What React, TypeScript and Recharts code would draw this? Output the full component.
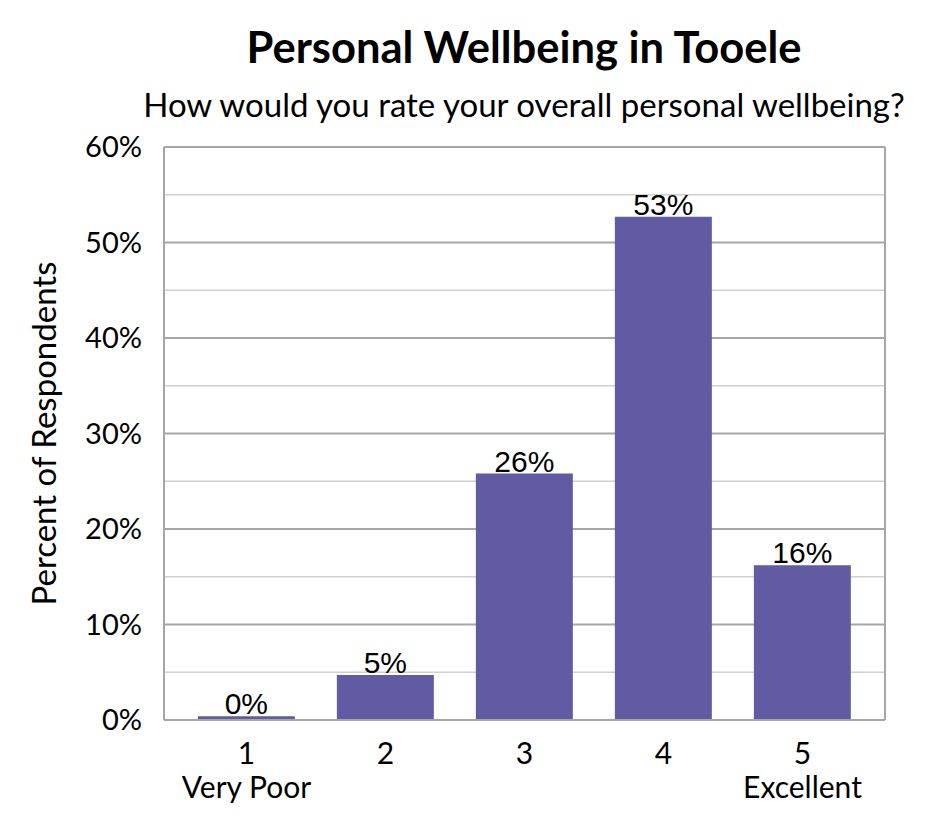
import { BarChart, Bar, XAxis, YAxis, CartesianGrid, LabelList } from 'recharts'

const categories = ['1', '2', '3', '4', '5']
const subLabels = ['Very Poor', '', '', '', 'Excellent']
const percents = [0.4, 4.7, 25.8, 52.7, 16.2]
const majorTicks = [0, 10, 20, 30, 40, 50, 60]
const minorTicks = [5, 15, 25, 35, 45, 55]

const data = categories.map((c, i) => ({ cat: c, sub: subLabels[i], value: percents[i] }))

const FONT = 'Lato, "Open Sans", sans-serif'
const GRID_MAJOR = '#a6a6a6'
const GRID_MINOR = '#d0d0d0'
const BAR = '#615ba4'
const Y_MAX = majorTicks[majorTicks.length - 1]

function XTick({ x, y, payload, index }: any) {
  return (
    <text textAnchor="middle" fontFamily={FONT} fontSize={30} fill="#000">
      <tspan x={x} y={y + 36}>{payload.value}</tspan>
      <tspan x={x} y={y + 70}>{subLabels[index]}</tspan>
    </text>
  )
}

// minor gridlines at the half-steps, placed on the value axis
const minorLines = ({ yAxis, offset }: any) =>
  minorTicks.map((t) =>
    yAxis && typeof yAxis.scale === 'function'
      ? yAxis.scale(t)
      : offset.top + offset.height * (1 - t / Y_MAX),
  )

// right-hand border of the plot box
const rightBorder = ({ offset }: any) => [offset.left + offset.width]

export default function App() {
  return (
    <div style={{ position: 'absolute', left: 0, top: 0, width: 945, height: 840, background: '#fff' }}>
      <svg width={945} height={140} style={{ position: 'absolute', left: 0, top: 0 }}>
        <text x={524} y={63} textAnchor="middle" fontFamily={FONT} fontWeight={700} fontSize={43.5}>
          Personal Wellbeing in Tooele
        </text>
        <text x={524} y={117} textAnchor="middle" fontFamily={FONT} fontSize={33}>
          How would you rate your overall personal wellbeing?
        </text>
      </svg>
      <BarChart
        width={945}
        height={840}
        data={data}
        margin={{ top: 147, right: 60, left: 0, bottom: 0 }}
        barCategoryGap="15%"
      >
        <CartesianGrid
          vertical={false}
          stroke={GRID_MINOR}
          strokeWidth={1.5}
          horizontalCoordinatesGenerator={minorLines}
        />
        <CartesianGrid vertical={false} stroke={GRID_MAJOR} strokeWidth={2} />
        <CartesianGrid
          horizontal={false}
          stroke={GRID_MAJOR}
          strokeWidth={2}
          verticalCoordinatesGenerator={rightBorder}
        />
        <XAxis
          dataKey="cat"
          height={120}
          padding={{ left: 13, right: 13 }}
          tickLine={false}
          axisLine={{ stroke: GRID_MAJOR, strokeWidth: 2 }}
          tick={<XTick />}
          interval={0}
        />
        <YAxis
          width={164}
          domain={[0, Y_MAX]}
          ticks={majorTicks}
          tickFormatter={(v: number) => `${v}%`}
          tickLine={false}
          axisLine={{ stroke: GRID_MAJOR, strokeWidth: 2 }}
          tick={{ fontFamily: FONT, fontSize: 29, fill: '#000' }}
          tickMargin={16}
          label={{
            value: 'Percent of Respondents',
            angle: -90,
            position: 'insideLeft',
            offset: 44,
            style: { fontFamily: FONT, fontSize: 33, fill: '#000', textAnchor: 'middle' },
          }}
        />
        <Bar dataKey="value" fill={BAR} isAnimationActive={false}>
          <LabelList
            dataKey="value"
            position="top"
            offset={2}
            formatter={(v: number) => `${Math.round(v)}%`}
            style={{ fontFamily: '"Liberation Sans", Arial, sans-serif', fontSize: 30, fill: '#000' }}
          />
        </Bar>
      </BarChart>
    </div>
  )
}
